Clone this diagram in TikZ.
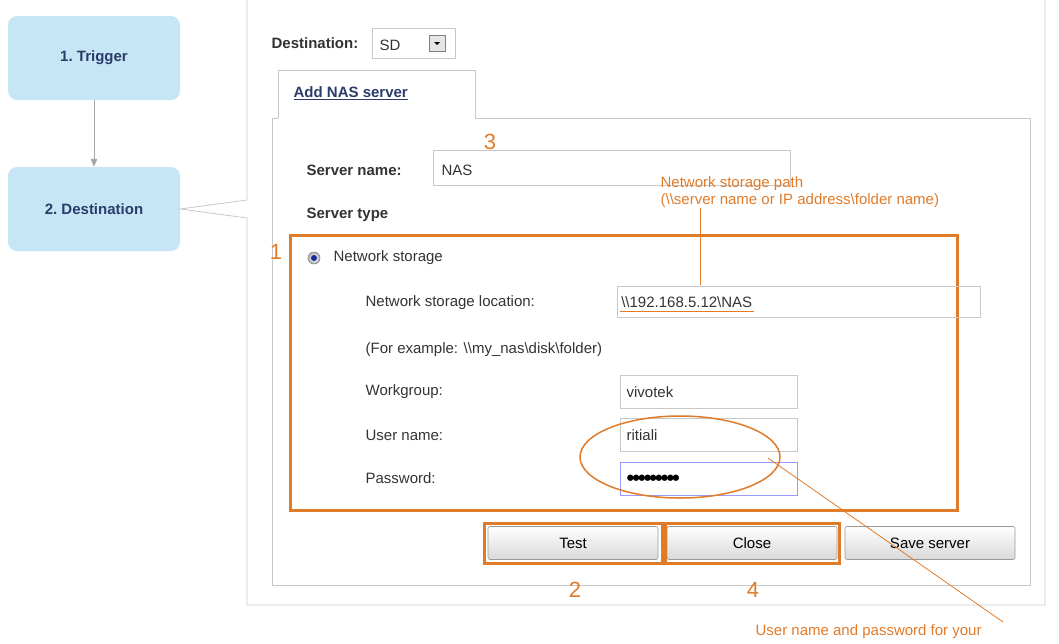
\documentclass[tikz,border=0pt]{standalone}
\usepackage{fontspec}
\setmainfont{Liberation Sans}
\usetikzlibrary{arrows,positioning,calc,shapes.geometric}
\definecolor{stepColor}{HTML}{C6E6F5}
\definecolor{navyColor}{HTML}{2B3C6B}
\definecolor{markColor}{HTML}{E07B2A}
\definecolor{panelColor}{HTML}{C8C8C8}
\tikzset{
	stepbox/.style={rounded corners=9pt, fill=stepColor, minimum width=172pt, minimum height=84pt, font=\fontsize{15}{18}\selectfont\bfseries, text=navyColor},
	field/.style={draw=panelColor, anchor=west, inner sep=0pt, outer sep=0pt},
	lbl/.style={anchor=west, font=\fontsize{15}{18}\selectfont, text=black!80},
	blbl/.style={anchor=west, font=\fontsize{15}{18}\selectfont\bfseries, text=black!80},
	btn/.style={draw=black!40, rounded corners=2pt, top color=white, bottom color=black!15, minimum width=170pt, minimum height=33pt, font=\fontsize{15}{18}\selectfont},
	markbox/.style={draw=markColor, line width=3pt},
	num/.style={text=markColor, font=\fontsize{22}{24}\selectfont},
	notetext/.style={text=markColor, anchor=west, font=\fontsize{15}{17}\selectfont}
}
\begin{document}
\begin{tikzpicture}[x=1pt, y=-1pt, semithick]
			\useasboundingbox (0,0) rectangle (1059,643);
			\node[stepbox] (trig) at (94, 58) {1.\ Trigger\hspace{28pt}};
			\node[stepbox] (dest) at (94, 209) {2.\ Destination};
			\draw[->, >=triangle 45, black!35, thick] (trig) -- (dest);
			% panels
			\draw[panelColor, thick] (247,0) -- (247,200) -- (dest.east) -- (247,218) -- (247,605) -- (1045,605) -- (1045,0);
			\draw[panelColor, thick] (278,118) -- (278,70) -- (475,70) -- (475,118) -- (1030,118) -- (1030,585) -- (272,585) -- (272,118) -- (278,118);
			\node[blbl] (dlab) at (268, 43) {Destination:};
			\node[field, minimum width=83pt, minimum height=30pt] (dbox) at (372, 43) {};
			\node[lbl] (sd) at (376, 45) {SD};
			\node[draw=black!50, fill=black!10, minimum width=16pt, minimum height=16pt, inner sep=0pt] (ddrop) at (437, 43) {};
			\fill[black] ($(ddrop)+(-3,-1)$) -- ++(6,0) -- ++(-3,3) -- cycle;
			\node[blbl, text=navyColor] (tab) at (290, 93) {\underline{Add NAS server}};
			\node[blbl] (snlab) at (303, 170) {Server name:};
			\node[field, minimum width=357pt, minimum height=35pt] (snbox) at (433, 168) {};
			\node[lbl] (snval) at (438, 170) {NAS};
			\node[num] (n3) at (490, 142) {3};
			\node[blbl] (stlab) at (303, 215) {Server type};
			% numbered frames
			\node[markbox, minimum width=667pt, minimum height=275pt, inner sep=0pt] (frame1) at (623.5, 372.5) {};
			\node[num] (n1) at (276, 252) {1};
			\node[circle, draw=black!50, inner color=white, outer color=black!30, minimum size=12pt, inner sep=0pt] (radio) at (314, 258) {};
			\fill[navyColor!70!blue] (radio) circle (3pt);
			\node[lbl] (nslab) at (330, 258) {Network storage};
			\node[lbl] (loclab) at (362, 303) {Network storage location:};
			\node[field, minimum width=363pt, minimum height=31pt] (locbox) at (617, 302) {};
			\node[lbl, inner sep=1pt] (locval) at (620, 302) {\textbackslash\textbackslash 192.168.5.12\textbackslash NAS};
			\draw[markColor, thick] ($(locval.south west)+(0,3)$) -- ($(locval.south east)+(0,3)$);
			\node[lbl] (example) at (362, 350) {(For example: \textbackslash\textbackslash my\_nas\textbackslash disk\textbackslash folder)};
			\node[lbl] (wglab) at (362, 392) {Workgroup:};
			\node[field, minimum width=177pt, minimum height=33pt] (wgbox) at (620, 392) {};
			\node[lbl] (wgval) at (623, 392) {vivotek};
			\node[lbl] (unlab) at (362, 435) {User name:};
			\node[field, minimum width=177pt, minimum height=33pt] (unbox) at (620, 435) {};
			\node[lbl] (unval) at (623, 435) {ritiali};
			\node[lbl] (pwlab) at (362, 478) {Password:};
			\node[field, draw=blue!40, minimum width=177pt, minimum height=33pt] (pwbox) at (620, 479) {};
			\node[lbl, font=\fontsize{22}{22}\selectfont\bfseries, text=black] (pwval) at (623, 480) {\textbullet\kern-2pt\textbullet\kern-2pt\textbullet\kern-2pt\textbullet\kern-2pt\textbullet\kern-2pt\textbullet\kern-2pt\textbullet\kern-2pt\textbullet\kern-2pt\textbullet};
			\node[draw=markColor, line width=1.5pt, ellipse, minimum width=200pt, minimum height=82pt] (oval) at (680, 457) {};
			% buttons
			\node[btn] (test) at (573, 543) {Test};
			\node[btn] (close) at (752, 543) {Close};
			\node[btn] (save) at (930, 543) {Save server};
			\node[markbox, minimum width=178pt, minimum height=40pt] (frame2) at (573, 543) {};
			\node[markbox, minimum width=174pt, minimum height=40pt] (frame4) at (752, 543) {};
			\node[num] (n2) at (575, 590) {2};
			\node[num] (n4) at (753, 590) {4};
			% notes
			\node[notetext, align=left] (pathnote) at (657, 192) {Network storage path\\(\textbackslash\textbackslash server name or IP address\textbackslash folder name)};
			\coordinate (pathtip) at (700, 285);
			\draw[markColor, thick] (700, 208) -- (pathtip);
			\node[notetext] (usernote) at (752, 632) {User name and password for your};
			\coordinate (ovaltip) at (768, 458);
			\draw[markColor, thick] (ovaltip) -- (1003, 622);
		\end{tikzpicture}
\end{document}
